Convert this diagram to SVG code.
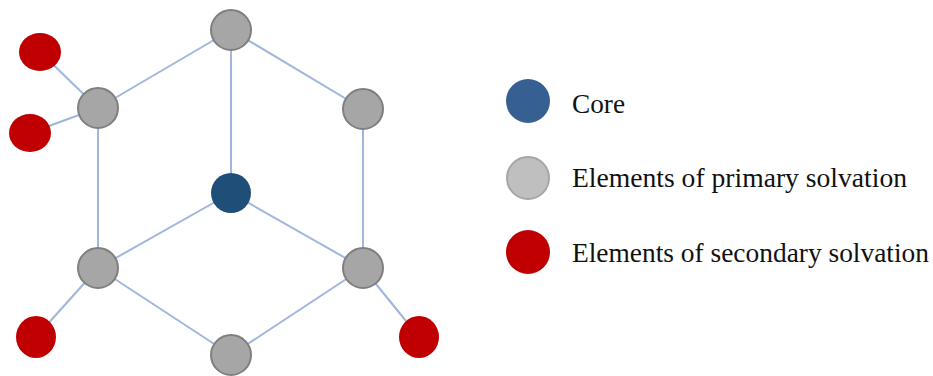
<svg xmlns="http://www.w3.org/2000/svg" width="933" height="376" viewBox="0 0 933 376">
<style>
.edge{stroke:#9fb6dd;stroke-width:2;fill:none}
.prim{fill:#a6a6a6;stroke:#7f7f7f;stroke-width:2}
.sec{fill:#c00000}
.core{fill:#1f4e79}
.lbl{font-family:"Liberation Serif",serif;font-size:27px;fill:#111}
</style>
<rect width="933" height="376" fill="#fff"/>
<g id="connectors">
<line class="edge" x1="231" y1="30" x2="98" y2="108"/>
<line class="edge" x1="231" y1="30" x2="363" y2="109"/>
<line class="edge" x1="231" y1="30" x2="231" y2="193"/>
<line class="edge" x1="98" y1="108" x2="98" y2="268"/>
<line class="edge" x1="363" y1="109" x2="363" y2="268"/>
<line class="edge" x1="231" y1="193" x2="98" y2="268"/>
<line class="edge" x1="231" y1="193" x2="363" y2="268"/>
<line class="edge" x1="98" y1="268" x2="231" y2="355"/>
<line class="edge" x1="363" y1="268" x2="231" y2="355"/>
<line class="edge" x1="40" y1="52" x2="98" y2="108"/>
<line class="edge" x1="30" y1="133" x2="98" y2="108"/>
<line class="edge" x1="36" y1="337" x2="98" y2="268"/>
<line class="edge" x1="419" y1="337" x2="363" y2="268"/>
</g>
<g id="n-top"><circle class="prim" cx="231" cy="30" r="20"/></g>
<g id="n-left-upper"><circle class="prim" cx="98" cy="108" r="20"/></g>
<g id="n-right-upper"><circle class="prim" cx="363" cy="109" r="20"/></g>
<g id="n-core"><circle class="core" cx="231" cy="193" r="20"/></g>
<g id="n-left-lower"><circle class="prim" cx="98" cy="268" r="20"/></g>
<g id="n-right-lower"><circle class="prim" cx="363" cy="268" r="20"/></g>
<g id="n-bottom"><circle class="prim" cx="231" cy="355" r="20"/></g>
<g id="s-top-left"><ellipse class="sec" cx="40" cy="52" rx="21" ry="19"/></g>
<g id="s-left"><ellipse class="sec" cx="30" cy="133" rx="21" ry="19"/></g>
<g id="s-bottom-left"><ellipse class="sec" cx="36" cy="337" rx="20" ry="21"/></g>
<g id="s-bottom-right"><ellipse class="sec" cx="419" cy="337" rx="20" ry="21"/></g>
<g id="legend-core"><circle cx="528" cy="101" r="22" fill="#376092"/><text class="lbl" x="572" y="113" textLength="53" lengthAdjust="spacingAndGlyphs">Core</text></g>
<g id="legend-primary"><circle cx="528" cy="178" r="21" fill="#bfbfbf" stroke="#a6a6a6" stroke-width="2"/><text class="lbl" x="572" y="187" textLength="335" lengthAdjust="spacingAndGlyphs">Elements of primary solvation</text></g>
<g id="legend-secondary"><circle cx="528" cy="252" r="22" fill="#c00000"/><text class="lbl" x="572" y="262" textLength="357" lengthAdjust="spacingAndGlyphs">Elements of secondary solvation</text></g>
</svg>
